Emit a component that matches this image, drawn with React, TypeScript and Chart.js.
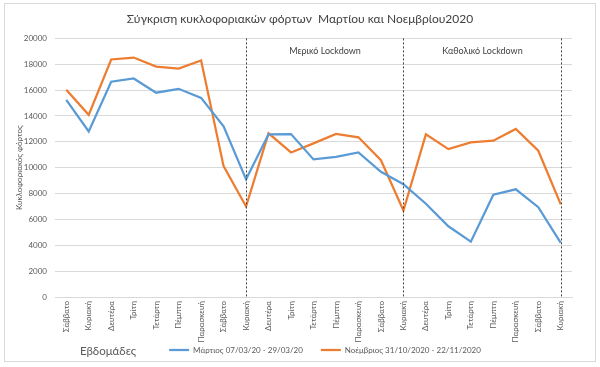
import React, { useEffect, useRef } from 'react';
import { Chart, registerables } from 'chart.js';

Chart.register(...registerables);

const FONT = "Lato, 'Open Sans', sans-serif";

const dayLabels = [
  'Σάββατο', 'Κυριακή', 'Δευτέρα', 'Τρίτη', 'Τετάρτη', 'Πέμπτη', 'Παρασκευή',
  'Σάββατο', 'Κυριακή', 'Δευτέρα', 'Τρίτη', 'Τετάρτη', 'Πέμπτη', 'Παρασκευή',
  'Σάββατο', 'Κυριακή', 'Δευτέρα', 'Τρίτη', 'Τετάρτη', 'Πέμπτη', 'Παρασκευή',
  'Σάββατο', 'Κυριακή',
];

const marchValues = [
  15250, 12800, 16650, 16900, 15800, 16100, 15400,
  13200, 9100, 12580, 12600, 10640, 10840, 11180,
  9680, 8720, 7210, 5470, 4280, 7910, 8330,
  6950, 4180,
];

const novemberValues = [
  16030, 14090, 18370, 18520, 17820, 17670, 18290,
  10120, 7000, 12660, 11180, 11880, 12610, 12350,
  10580, 6690, 12580, 11440, 11960, 12090, 13000,
  11310, 7160,
];

const seriesNames = ['Μάρτιος 07/03/20 - 29/03/20', 'Νοέμβριος 31/10/2020 - 22/11/2020'];
const seriesColors = ['#5B9BD5', '#ED7D31'];
const dividerIndexes = [8, 15, 22];
const periodLabels = ['Μερικό Lockdown', 'Καθολικό Lockdown'];
const titleText = 'Σύγκριση κυκλοφοριακών φόρτων  Μαρτίου και Νοεμβρίου2020';
const yTitle = 'Κυκλοφοριακός φόρτος';
const xTitle = 'Εβδομάδες';

const framePlugin = {
  id: 'frame',
  beforeDraw(chart: any) {
    const ctx = chart.ctx;
    ctx.save();
    ctx.fillStyle = '#ffffff';
    ctx.fillRect(0, 0, chart.width, chart.height);
    ctx.strokeStyle = '#d9d9d9';
    ctx.lineWidth = 1;
    ctx.strokeRect(4.5, 3.5, 591, 358);
    ctx.restore();
  },
  afterLayout(chart: any) {
    const lg = chart.legend;
    if (lg) {
      lg.left += 39;
      lg.right += 39;
    }
    const tb = chart.titleBlock;
    if (tb) {
      tb.left += 14;
      tb.right += 14;
    }
    const xs = chart.scales.x;
    if (xs) {
      // let rotated tick labels extend below the reserved box without clipping
      xs.bottom += 25;
    }
  },
};

const dividerPlugin = {
  id: 'dividers',
  afterDatasetsDraw(chart: any) {
    const ctx = chart.ctx;
    const x = chart.scales.x;
    const { top, bottom } = chart.chartArea;
    ctx.save();
    ctx.strokeStyle = '#404040';
    ctx.lineWidth = 1;
    ctx.setLineDash([2, 2]);
    const xs = dividerIndexes.map((i) => Math.round(x.getPixelForValue(i)) + 0.5);
    xs.forEach((px) => {
      ctx.beginPath();
      ctx.moveTo(px, top);
      ctx.lineTo(px, bottom);
      ctx.stroke();
    });
    ctx.setLineDash([]);
    ctx.fillStyle = '#404040';
    ctx.font = `9px ${FONT}`;
    ctx.textAlign = 'center';
    ctx.textBaseline = 'middle';
    periodLabels.forEach((t, i) => {
      ctx.fillText(t, (xs[i] + xs[i + 1]) / 2, top + 13);
    });
    const lg = chart.legend;
    let y = 350;
    if (lg && lg.legendHitBoxes && lg.legendHitBoxes[0]) {
      const hb = lg.legendHitBoxes[0];
      y = hb.top + hb.height / 2;
    }
    ctx.fillStyle = '#595959';
    ctx.font = `11.5px ${FONT}`;
    ctx.fillText(xTitle, 108, y + 1);
    ctx.restore();
  },
};

export default function App() {
  const ref = useRef<HTMLCanvasElement | null>(null);

  useEffect(() => {
    if (!ref.current) return;
    const chart = new Chart(ref.current, {
      type: 'line',
      data: {
        labels: dayLabels,
        datasets: [
          {
            label: seriesNames[0],
            data: marchValues,
            borderColor: seriesColors[0],
            backgroundColor: seriesColors[0],
            borderWidth: 2.25,
            pointRadius: 0,
            tension: 0,
            pointStyle: 'line',
          },
          {
            label: seriesNames[1],
            data: novemberValues,
            borderColor: seriesColors[1],
            backgroundColor: seriesColors[1],
            borderWidth: 2.25,
            pointRadius: 0,
            tension: 0,
            pointStyle: 'line',
          },
        ],
      },
      options: {
        animation: false,
        responsive: false,
        maintainAspectRatio: false,
        layout: { padding: { left: 0, right: 28, top: 4, bottom: 3 } },
        plugins: {
          title: {
            display: true,
            text: titleText,
            color: '#404040',
            font: { family: FONT, size: 12, weight: 'normal' },
            padding: { top: 8, bottom: 12 },
          },
          legend: {
            position: 'bottom',
            maxHeight: 42,
            labels: {
              usePointStyle: true,
              pointStyle: 'line',
              pointStyleWidth: 20,
              color: '#595959',
              font: { family: FONT, size: 8 },
              padding: 18,
            },
          },
          tooltip: { enabled: false },
        },
        scales: {
          x: {
            offset: true,
            grid: { display: false, drawTicks: false },
            border: { display: true, color: '#d9d9d9' },
            ticks: {
              autoSkip: false,
              minRotation: 90,
              maxRotation: 90,
              color: '#595959',
              font: { family: FONT, size: 8 },
              padding: 4,
            },
            afterFit: (s: any) => {
              s.height = 31;
            },
          },
          y: {
            min: 0,
            max: 20000,
            grid: { color: '#d9d9d9', drawTicks: false },
            border: { display: false },
            ticks: {
              stepSize: 2000,
              color: '#595959',
              font: { family: FONT, size: 8 },
              padding: 8,
              callback: (v: any) => String(v),
            },
            title: {
              display: true,
              text: yTitle,
              color: '#595959',
              font: { family: FONT, size: 8 },
              padding: { top: 15, bottom: 0 },
            },
            afterFit: (s: any) => {
              s.width = 55;
            },
          },
        },
      },
      plugins: [framePlugin, dividerPlugin],
    });
    return () => chart.destroy();
  }, []);

  return (
    <div style={{ position: 'absolute', left: 0, top: 0, width: 600, height: 367 }}>
      <canvas ref={ref} width={600} height={367} style={{ width: 600, height: 367, display: 'block' }} />
    </div>
  );
}
